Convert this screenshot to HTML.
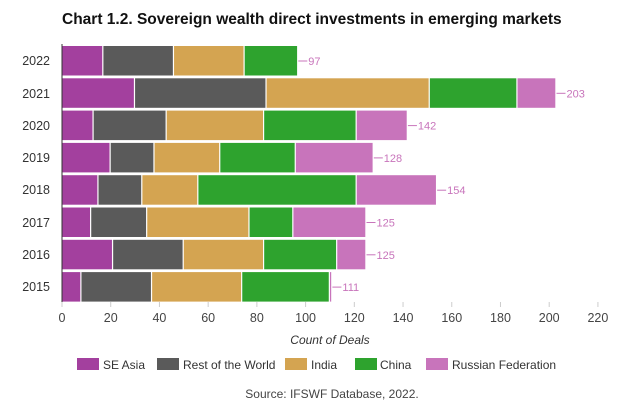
<!DOCTYPE html>
<html><head><style>
html,body{margin:0;padding:0;background:#fff;}
svg{display:block;font-family:"Liberation Sans",sans-serif;}
</style></head><body>
<svg width="640" height="412" viewBox="0 0 640 412">
<text x="62" y="24" font-size="15.5" font-weight="bold" fill="#111">Chart 1.2. Sovereign wealth direct investments in emerging markets</text>
<g id="bars"></g>
<g font-size="12.5" fill="#333" text-anchor="end">
<text x="50" y="65">2022</text><text x="50" y="98">2021</text><text x="50" y="130">2020</text><text x="50" y="162">2019</text>
<text x="50" y="194">2018</text><text x="50" y="227">2017</text><text x="50" y="259">2016</text><text x="50" y="291">2015</text>
</g>
<g id="ticks" font-size="12.5" fill="#444" text-anchor="middle"></g>
<text x="330" y="344" font-size="12" font-style="italic" fill="#333" text-anchor="middle">Count of Deals</text>
<g font-size="12" fill="#333">
<rect x="77" y="358" width="22" height="12" fill="#a3409e"/><text x="103" y="369">SE Asia</text>
<rect x="157" y="358" width="22" height="12" fill="#5a5a5a"/><text x="183" y="369">Rest of the World</text>
<rect x="285" y="358" width="22" height="12" fill="#d4a451"/><text x="311" y="369">India</text>
<rect x="355" y="358" width="22" height="12" fill="#2ea32e"/><text x="380" y="369">China</text>
<rect x="426" y="358" width="22" height="12" fill="#c874bb"/><text x="452" y="369">Russian Federation</text>
</g>
<text x="332" y="398" font-size="12" fill="#444" text-anchor="middle">Source: IFSWF Database, 2022.</text>
</svg>
<script>
var s=2.436,x0=62;
var data=[[2022,[17,46,75,97,97]],[2021,[30,84,151,187,203]],[2020,[13,43,83,121,142]],[2019,[20,38,65,96,128]],[2018,[15,33,56,121,154]],[2017,[12,35,77,95,125]],[2016,[21,50,83,113,125]],[2015,[8,37,74,110,111]]];
var cols=["#a3409e","#5a5a5a","#d4a451","#2ea32e","#c874bb"];
var ns="http://www.w3.org/2000/svg",g=document.getElementById("bars"),h="";
data.forEach(function(d,i){var y=46+i*32.3,p=0;
d[1].forEach(function(v,j){if(v>p)h+='<rect x="'+(x0+p*s)+'" y="'+y+'" width="'+((v-p)*s-1.2)+'" height="29.5" fill="'+cols[j]+'"/>';p=v;});
var e=x0+p*s,cy=y+15;h+='<line x1="'+e+'" y1="'+cy+'" x2="'+(e+9)+'" y2="'+cy+'" stroke="#c874bb" stroke-width="1"/><text x="'+(e+10)+'" y="'+(cy+4)+'" font-size="11" fill="#c874bb">'+p+'</text>';});
h+='<line x1="62" y1="44" x2="62" y2="303" stroke="#333" stroke-width="1"/>';
g.innerHTML=h;
var t="";for(var v=0;v<=220;v+=20){var x=x0+v*s;t+='<line x1="'+x+'" y1="302" x2="'+x+'" y2="307" stroke="#ccc"/><text x="'+x+'" y="322">'+v+'</text>';}
document.getElementById("ticks").innerHTML=t;
</script>
</body></html>
